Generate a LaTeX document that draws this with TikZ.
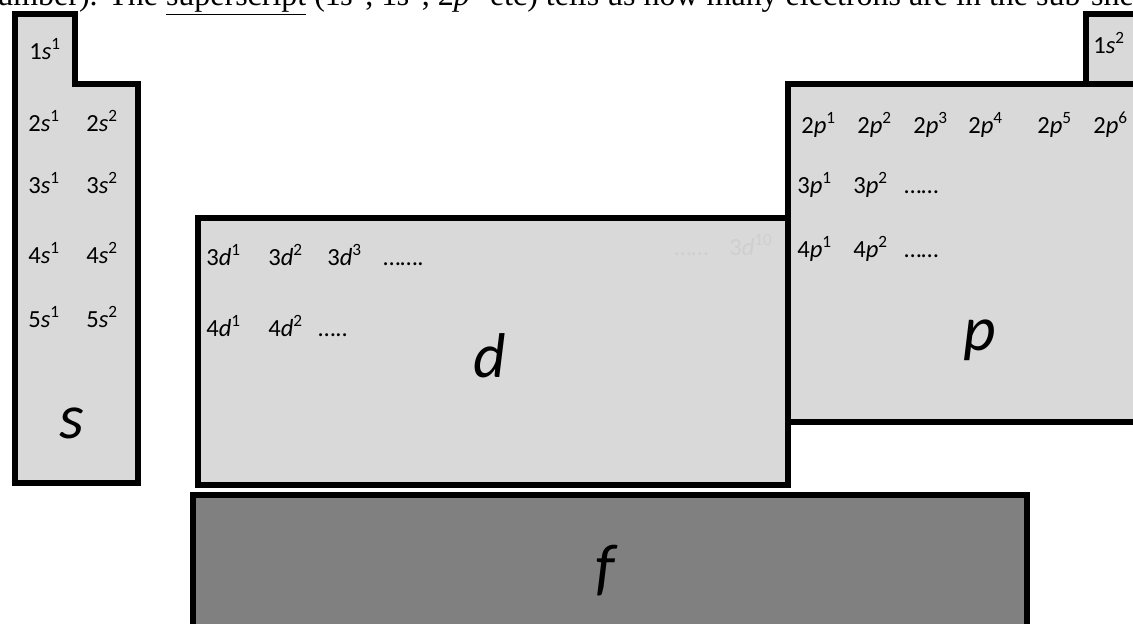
\documentclass[tikz,border=0pt]{standalone}
\usepackage{fontspec}
\setmainfont{Carlito}
\newfontfamily\pagefont{Liberation Serif}
\usetikzlibrary{positioning}
\newcommand{\orb}[3]{#1\textit{#2}\textsuperscript{#3}}
\tikzset{
  blockfill/.style={draw=black, line width=3.6pt, fill=black!15},
  fblock/.style={blockfill, fill=black!50},
  orblabel/.style={anchor=base west, inner sep=0pt,
    font=\fontsize{14}{16}\selectfont},
  faintlabel/.style={orblabel, text=black!19},
  bigletter/.style={anchor=base, inner sep=0pt,
    font=\fontsize{36}{40}\selectfont\itshape}
}

\begin{document}
\begin{tikzpicture}[x=0.02cm, y=-0.02cm]
  \useasboundingbox (0,0) rectangle (1133,623);
  \clip (0,0) rectangle (1133,623);

  % cut-off line of the page text above
  \node[anchor=base west, inner sep=0pt,
    font=\pagefont\fontsize{18.2}{20}\selectfont] (pagetext) at (-19,5)
    {number). The \underline{superscript} (1\textit{s}\textsuperscript{1},
    1\textit{s}\textsuperscript{2}, 2\textit{p}\textsuperscript{1} etc)
    tells us how many electrons are in the sub-shell};

  % blocks
  \draw[blockfill] (15,14) -- (75,14) -- (75,84) -- (138,84) -- (138,483)
    -- (15,483) -- cycle;
  \draw[blockfill] (198,218) rectangle (788,485);
  \draw[blockfill] (1086,14) rectangle (1150,84);
  \draw[blockfill] (788,84) rectangle (1150,422);
  \draw[fblock] (193,495) rectangle (1027,650);

  % s block
  \node[orblabel] (s1-1) at (29,59) {\orb{1}{s}{1}};
  \foreach \n/\y in {2/131,3/193,4/263,5/327} {
    \node[orblabel] (s\n-1) at (28,\y) {\orb{\n}{s}{1}};
    \node[orblabel] (s\n-2) at (86,\y) {\orb{\n}{s}{2}};
  }
  \node[bigletter] (sname) at (72,438) {s};

  % p block
  \node[orblabel] (s1-2) at (1093,53) {\orb{1}{s}{2}};
  \foreach \k/\x in {1/801,2/857,3/913,4/968,5/1037,6/1093}
    \node[orblabel] (p2-\k) at (\x,133) {\orb{2}{p}{\k}};
  \foreach \n/\y in {3/193,4/257} {
    \node[orblabel] (p\n-1) at (797,\y) {\orb{\n}{p}{1}};
    \node[orblabel] (p\n-2) at (853,\y) {\orb{\n}{p}{2}};
    \node[orblabel] (p\n-dots) at (904,\y) {……};
  }
  \node[bigletter] (pname) at (980,350) {p};

  % d block
  \foreach \k/\x in {1/206,2/268,3/327}
    \node[orblabel] (d3-\k) at (\x,265) {\orb{3}{d}{\k}};
  \node[orblabel] (d3-dots) at (383,265) {…….};
  \node[orblabel] (d4-1) at (206,336) {\orb{4}{d}{1}};
  \node[orblabel] (d4-2) at (268,336) {\orb{4}{d}{2}};
  \node[orblabel] (d4-dots) at (318,336) {…..};
  \node[faintlabel] (d3-fdots) at (674,255) {……};
  \node[faintlabel] (d3-10) at (729,255) {\orb{3}{d}{10}};
  \node[bigletter] (dname) at (490,377) {d};

  % f block
  \node[bigletter] (fname) at (605,588) {f};
\end{tikzpicture}
\end{document}
